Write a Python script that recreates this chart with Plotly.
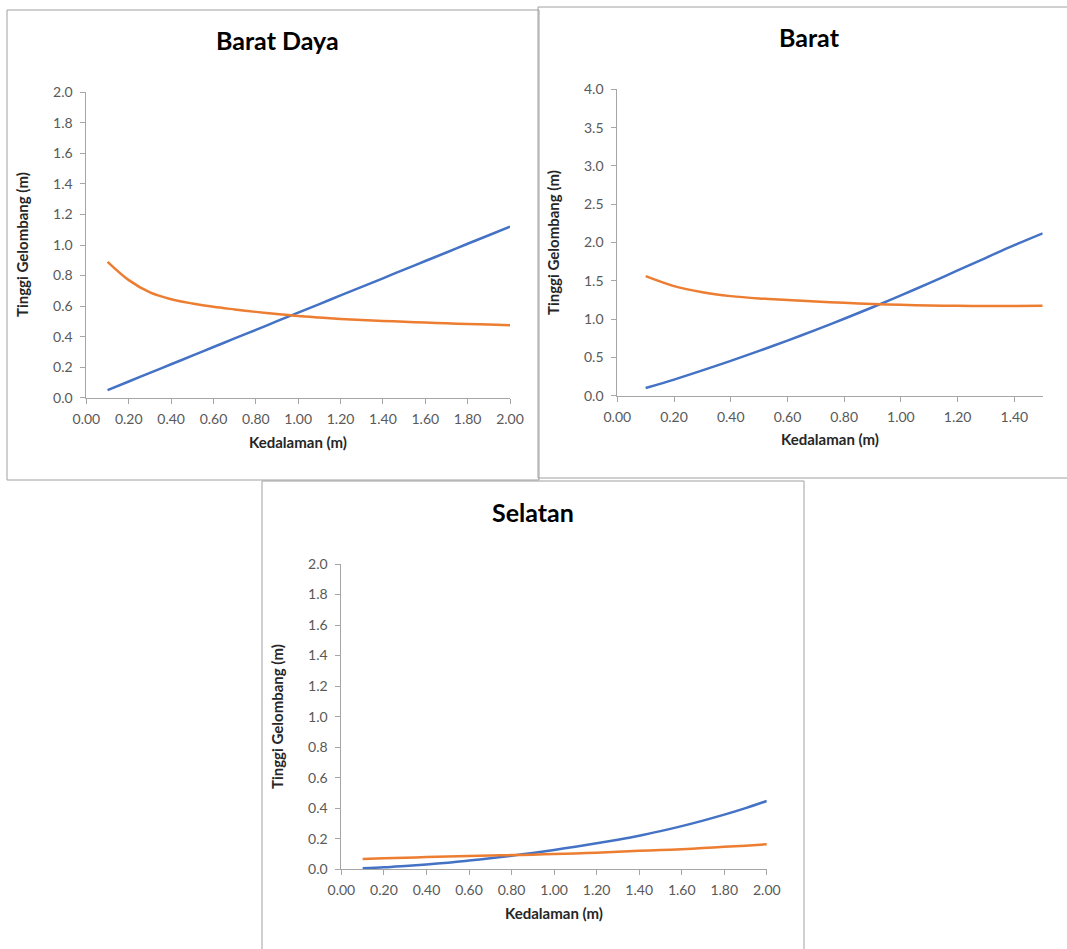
import plotly.graph_objects as go

# ---- data -------------------------------------------------------------
depth_bd = [0.1, 0.2, 0.3, 0.4, 0.5, 0.6, 0.7, 0.8, 0.9, 1.0,
            1.1, 1.2, 1.3, 1.4, 1.5, 1.6, 1.7, 1.8, 1.9, 2.0]
blue_bd = [0.050, 0.106, 0.163, 0.219, 0.275, 0.332, 0.388, 0.444, 0.501, 0.557,
           0.613, 0.670, 0.726, 0.782, 0.839, 0.895, 0.951, 1.008, 1.064, 1.120]
orange_bd = [0.89, 0.77, 0.69, 0.645, 0.617, 0.595, 0.578, 0.562, 0.548, 0.535,
             0.525, 0.516, 0.509, 0.503, 0.497, 0.492, 0.487, 0.483, 0.479, 0.475]

depth_b = [0.1, 0.2, 0.3, 0.4, 0.5, 0.6, 0.7, 0.8, 0.9, 1.0,
           1.1, 1.2, 1.3, 1.4, 1.5]
blue_b = [0.10, 0.21, 0.33, 0.455, 0.585, 0.72, 0.86, 1.005, 1.155, 1.31,
          1.47, 1.635, 1.80, 1.965, 2.12]
orange_b = [1.56, 1.43, 1.35, 1.30, 1.27, 1.25, 1.23, 1.212, 1.198, 1.186,
            1.178, 1.173, 1.171, 1.172, 1.175]

depth_s = [0.1, 0.2, 0.3, 0.4, 0.5, 0.6, 0.7, 0.8, 0.9, 1.0,
           1.1, 1.2, 1.3, 1.4, 1.5, 1.6, 1.7, 1.8, 1.9, 2.0]
blue_s = [0.007, 0.013, 0.022, 0.032, 0.043, 0.057, 0.072, 0.089, 0.107, 0.127,
          0.148, 0.170, 0.194, 0.220, 0.250, 0.283, 0.319, 0.358, 0.401, 0.448]
orange_s = [0.068, 0.072, 0.076, 0.080, 0.084, 0.087, 0.090, 0.093, 0.096, 0.100,
            0.104, 0.109, 0.115, 0.121, 0.126, 0.132, 0.139, 0.147, 0.155, 0.164]

titles = ["Barat Daya", "Barat", "Selatan"]
x_title = "Kedalaman (m)"
y_title = "Tinggi Gelombang (m)"

# ---- page geometry (pixels) -------------------------------------------
W, H = 1067, 949
BLUE, ORANGE = "#4472C4", "#ED7D31"
AXIS_GREY = "#a6a6a6"
BOX_GREY = "#a0a0a0"
FONT = "Lato"


def px(x):
    return x / W


def py(y):
    return 1 - y / H


panels = [
    dict(x=depth_bd, blue=blue_bd, orange=orange_bd, title=titles[0],
         plot=(86.4, 510.0, 397.7, 92.3), xr=[0, 2], yr=[0, 2], dy=0.2,
         box=(7, 539, 10, 480), ttl=(277, 39.5), xt=(298, 442), yt=(22, 245)),
    dict(x=depth_b, blue=blue_b, orange=orange_b, title=titles[1],
         plot=(617.3, 1042.7, 395.7, 89.3), xr=[0, 1.5], yr=[0, 4], dy=0.5,
         box=(538, 1070, 7, 478), ttl=(809, 37.5), xt=(830, 439), yt=(553, 243)),
    dict(x=depth_s, blue=blue_s, orange=orange_s, title=titles[2],
         plot=(341.4, 766.8, 869.3, 564.0), xr=[0, 2], yr=[0, 2], dy=0.2,
         box=(262, 804, 481, 955), ttl=(533, 512), xt=(554, 913), yt=(277, 717)),
]

fig = go.Figure()
shapes, annotations = [], []
layout = {}

for i, p in enumerate(panels, start=1):
    sfx = "" if i == 1 else str(i)
    xa, ya = "x" + sfx, "y" + sfx
    for ys, col in ((p["blue"], BLUE), (p["orange"], ORANGE)):
        fig.add_trace(go.Scatter(
            x=p["x"], y=ys, mode="lines", xaxis=xa, yaxis=ya,
            line=dict(color=col, width=2.5, shape="spline", smoothing=0.9),
            showlegend=False, hoverinfo="skip"))

    x0, x1, y0, y1 = p["plot"]
    common = dict(showline=True, linecolor=AXIS_GREY, linewidth=1,
                  ticks="outside", ticklen=5, tickcolor=AXIS_GREY, tickwidth=1,
                  showgrid=False, zeroline=False, fixedrange=True,
                  automargin=False,
                  tickfont=dict(family=FONT, size=14, color="#595959"))
    layout["xaxis" + sfx] = dict(
        common, domain=[px(x0), px(x1)], range=p["xr"], anchor=ya,
        dtick=0.2, tick0=0, tickformat=".2f", ticklabelstandoff=3)
    layout["yaxis" + sfx] = dict(
        common, domain=[py(y0), py(y1)], range=p["yr"], anchor=xa,
        dtick=p["dy"], tick0=0, tickformat=".1f", ticklabelstandoff=5)

    bx0, bx1, by0, by1 = p["box"]
    shapes.append(dict(type="rect", xref="paper", yref="paper",
                       x0=px(bx0), x1=px(bx1), y0=py(by1), y1=py(by0),
                       line=dict(color=BOX_GREY, width=1), layer="below"))

    tx, ty = p["ttl"]
    annotations.append(dict(text="<b>%s</b>" % p["title"], x=px(tx), y=py(ty),
                            xref="paper", yref="paper", showarrow=False,
                            xanchor="center", yanchor="middle",
                            font=dict(family=FONT, size=25, color="#000000")))
    ax, ay = p["xt"]
    annotations.append(dict(text="<b>%s</b>" % x_title, x=px(ax), y=py(ay),
                            xref="paper", yref="paper", showarrow=False,
                            xanchor="center", yanchor="middle",
                            font=dict(family=FONT, size=15, color="#262626")))
    vx, vy = p["yt"]
    annotations.append(dict(text="<b>%s</b>" % y_title, x=px(vx), y=py(vy),
                            xref="paper", yref="paper", showarrow=False,
                            textangle=-90, xanchor="center", yanchor="middle",
                            font=dict(family=FONT, size=15, color="#262626")))

fig.update_layout(
    width=W, height=H, margin=dict(l=0, r=0, t=0, b=0, autoexpand=False),
    paper_bgcolor="white", plot_bgcolor="rgba(0,0,0,0)",
    shapes=shapes, annotations=annotations, showlegend=False, **layout)

fig.write_html("out.html")
